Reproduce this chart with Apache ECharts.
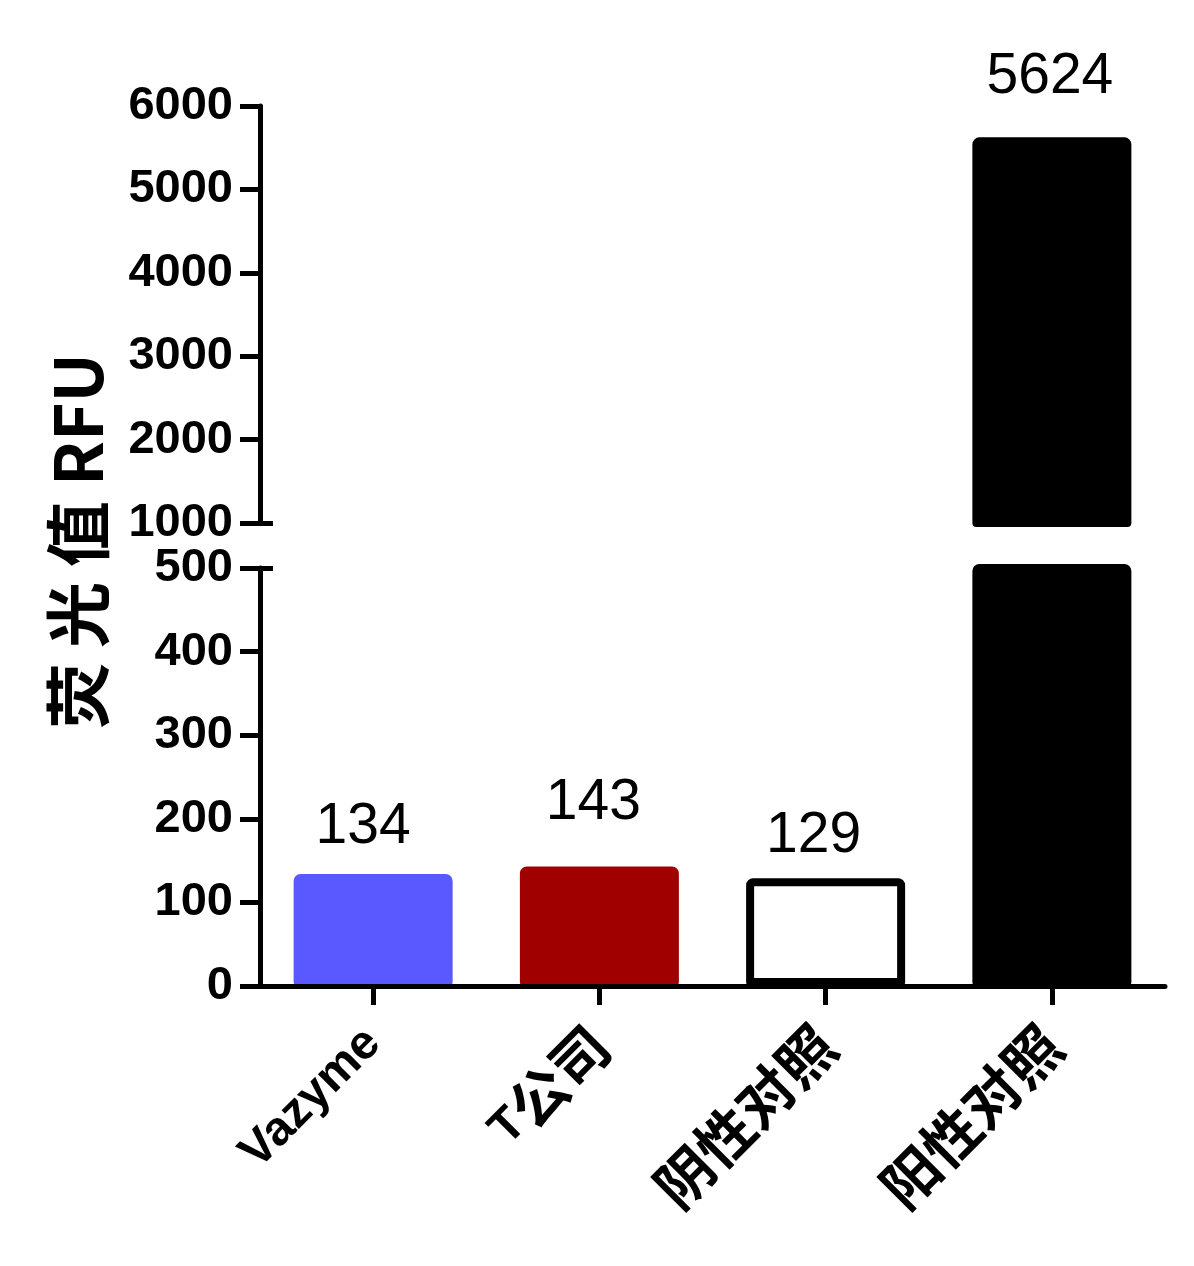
<!DOCTYPE html>
<html>
<head>
<meta charset="utf-8">
<script src="https://cdn.jsdelivr.net/npm/echarts@6/dist/echarts.min.js"></script>
<style>
  html, body { margin: 0; padding: 0; background: #ffffff; }
  #chart { width: 1194px; height: 1266px; }
</style>
</head>
<body>
<div id="chart"></div>
<script>
// ---- data ----
const categories = ['Vazyme', 'T公司', '阴性对照', '阳性对照'];
const values = [134, 143, 129, 5624];
const lowerRange = [0, 500];
const lowerStep = 100;
const upperRange = [1000, 6000];
const upperStep = 1000;
const yTitle = '荧 光 值 RFU';

// ---- styling ----
const fillColors = ['#5959FF', '#A00000', '#FFFFFF', '#000000'];
const edgeColors = ['#5959FF', '#A00000', '#000000', '#000000'];
const labelNudge = [[-10, 18], [-6, 35], [-12, 13], [-2, 32]];

const chart = echarts.init(document.getElementById('chart'), null, { renderer: 'canvas' });

const AX = '#000000';
const tickFont = { fontFamily: 'Liberation Sans, Arial, sans-serif', fontWeight: 'bold', fontSize: 47, color: AX };
const valFont = { fontFamily: 'Liberation Sans, Arial, sans-serif', fontWeight: 'normal', fontSize: 57, color: AX };

function item(v, i, showLabel) {
  return {
    value: v,
    itemStyle: {
      color: fillColors[i],
      borderColor: edgeColors[i],
      borderWidth: 8,
      borderRadius: [3, 3, 0, 0],
      borderJoin: 'round'
    },
    label: Object.assign({
      show: showLabel,
      position: 'top',
      distance: labelNudge[i][1],
      offset: [labelNudge[i][0], 0]
    }, valFont)
  };
}

const topData = values.map((v, i) => v > upperRange[0] ? item(v, i, true) : '-');
const bottomData = values.map((v, i) => item(v, i, v <= lowerRange[1]));

function xLabelFormatter(s) {
  const parts = s.match(/[\u3000-\u9fff]+|[^\u3000-\u9fff]+/g) || [];
  return parts.map(p => (/[\u3000-\u9fff]/.test(p) ? '{c|' : '{l|') + p + '}').join('');
}

const yAxisCommon = {
  type: 'value',
  position: 'left',
  axisLine: { show: true, lineStyle: { color: AX, width: 5 } },
  axisTick: { show: true, inside: false, length: 20, lineStyle: { color: AX, width: 5 } },
  axisLabel: Object.assign({ margin: 27, formatter: v => String(v) }, tickFont),
  splitLine: { show: false }
};

const breakTick = {
  type: 'value',
  position: 'left',
  offset: 0,
  axisLine: { show: false },
  axisLabel: { show: false },
  splitLine: { show: false }
};

const option = {
  backgroundColor: '#ffffff',
  animation: false,
  grid: [
    { left: 260, right: 29, top: 106, height: 417 },
    { left: 260, right: 29, top: 568, height: 418 }
  ],
  xAxis: [
    {
      type: 'category', gridIndex: 0, data: categories,
      show: false
    },
    {
      type: 'category', gridIndex: 1, data: categories, z: 5,
      axisLine: { show: true, lineStyle: { color: AX, width: 5 } },
      axisTick: { show: true, alignWithLabel: true, length: 19, lineStyle: { color: AX, width: 5 } },
      axisLabel: {
        interval: 0,
        rotate: 45,
        margin: 50,
        formatter: xLabelFormatter,
        rich: {
          l: { fontFamily: 'Liberation Sans, Arial, sans-serif', fontWeight: 'bold', fontSize: 48, color: AX },
          c: { fontFamily: 'Noto Sans CJK SC', fontWeight: 'bold', fontSize: 57, color: AX }
        }
      }
    }
  ],
  yAxis: [
    Object.assign({}, yAxisCommon, { gridIndex: 0, min: upperRange[0], max: upperRange[1], interval: upperStep, z: 5 }),
    Object.assign({}, yAxisCommon, { gridIndex: 1, min: lowerRange[0], max: lowerRange[1], interval: lowerStep, z: 5 }),
    Object.assign({}, breakTick, {
      gridIndex: 0, min: upperRange[0], max: upperRange[1], interval: upperStep,
      axisTick: { show: true, inside: true, length: 13, customValues: [upperRange[0]], lineStyle: { color: AX, width: 5 } }
    }),
    Object.assign({}, breakTick, {
      gridIndex: 1, min: lowerRange[0], max: lowerRange[1], interval: lowerStep,
      axisTick: { show: true, inside: true, length: 13, customValues: [lowerRange[1]], lineStyle: { color: AX, width: 5 } }
    })
  ],
  series: [
    {
      type: 'bar', xAxisIndex: 0, yAxisIndex: 0, barWidth: 159, clip: true,
      data: topData
    },
    {
      type: 'bar', xAxisIndex: 1, yAxisIndex: 1, barWidth: 159, clip: true,
      data: bottomData
    }
  ],
  graphic: [
    {
      type: 'text',
      x: 78, y: 541,
      rotation: Math.PI / 2,
      style: {
        text: yTitle,
        fontFamily: 'Noto Sans CJK SC',
        fontWeight: 'bold',
        fontSize: 66,
        fill: AX,
        align: 'center',
        verticalAlign: 'middle'
      }
    }
  ]
};

chart.setOption(option);
</script>
</body>
</html>
